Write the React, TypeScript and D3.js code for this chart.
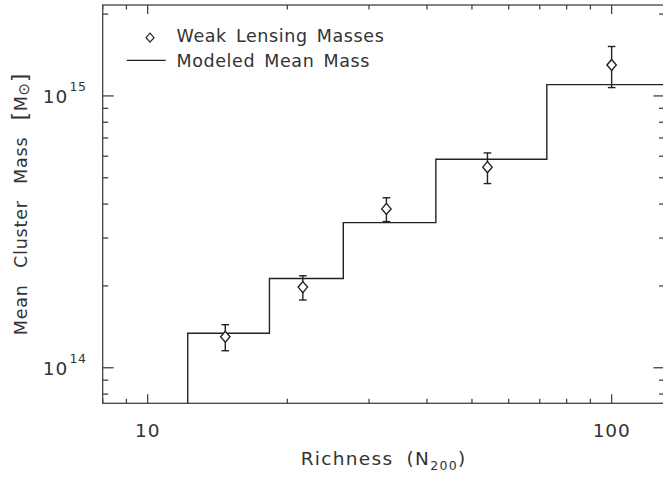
import React from "react";
import * as d3 from "d3";

const richness = [14.7, 21.6, 32.7, 54.0, 100];
const lensingMass = [1.3e14, 1.98e14, 3.84e14, 5.47e14, 1.3e15];
const errLow = [1.155e14, 1.775e14, 3.45e14, 4.76e14, 1.073e15];
const errHigh = [1.44e14, 2.18e14, 4.22e14, 6.17e14, 1.52e15];
const binEdges = [12.2, 18.3, 26.4, 41.8, 72.5, 130];
const modelMass = [1.34e14, 2.13e14, 3.42e14, 5.85e14, 1.1e15];
const xMajor = [10, 100];
const xMinor = [8, 9, 20, 30, 40, 50, 60, 70, 80, 90];
const yMajor = [1e14, 1e15];
const yMinor = [8e13, 9e13, 2e14, 3e14, 4e14, 5e14, 6e14, 7e14, 8e14, 9e14, 2e15];
const legendLabels = ["Weak Lensing Masses", "Modeled Mean Mass"];

const W = 663, H = 478;
const L = 102.7, R = 664.5, T = 5, B = 403.3;
const FONT = "'DejaVu Sans', sans-serif";
const TXT = "#333";

export default function App() {
  const x = d3.scaleLog().domain([8, 130]).range([L, R]);
  const y = d3.scaleLog().domain([7.4e13, 2.16e15]).range([B, T]);

  const stepPts: [number, number][] = [[binEdges[0], 7.4e13]];
  modelMass.forEach((m, i) => stepPts.push([binEdges[i], m]));
  stepPts.push([binEdges[binEdges.length - 1], modelMass[modelMass.length - 1]]);
  const stepLine = d3
    .line<[number, number]>()
    .x((d) => x(d[0]))
    .y((d) => y(d[1]))
    .curve(d3.curveStepAfter);

  const diamond = (cx: number, cy: number, hw: number, hh: number) =>
    `M${cx},${cy - hh}L${cx + hw},${cy}L${cx},${cy + hh}L${cx - hw},${cy}Z`;

  const axisColor = "#444";
  const sw = 1.3;

  return (
    <svg
      width={W}
      height={H}
      style={{ position: "absolute", left: 0, top: 0, background: "#fff" }}
      fontFamily={FONT}
    >
      <rect x={0} y={0} width={W} height={H} fill="#fff" />
      <defs>
        <clipPath id="plot">
          <rect x={L} y={T} width={R - L} height={B - T} />
        </clipPath>
      </defs>

      {/* frame */}
      <rect x={L} y={T} width={R - L} height={B - T} fill="none" stroke={axisColor} strokeWidth={sw} />

      {/* x ticks */}
      {xMajor.map((v) => (
        <g key={"xM" + v}>
          <line x1={x(v)} x2={x(v)} y1={B} y2={B - 9} stroke={axisColor} strokeWidth={sw} />
          <line x1={x(v)} x2={x(v)} y1={T} y2={T + 9} stroke={axisColor} strokeWidth={sw} />
          <text x={x(v)} y={437} textAnchor="middle" fontSize={18.5} fill={TXT} letterSpacing={0.8}>
            {String(v)}
          </text>
        </g>
      ))}
      {xMinor.map((v) => (
        <g key={"xm" + v}>
          <line x1={x(v)} x2={x(v)} y1={B} y2={B - 4.5} stroke={axisColor} strokeWidth={sw} />
          <line x1={x(v)} x2={x(v)} y1={T} y2={T + 4.5} stroke={axisColor} strokeWidth={sw} />
        </g>
      ))}

      {/* y ticks */}
      {yMajor.map((v) => (
        <g key={"yM" + v}>
          <line x1={L} x2={L + 11} y1={y(v)} y2={y(v)} stroke={axisColor} strokeWidth={sw} />
          <line x1={R} x2={R - 11} y1={y(v)} y2={y(v)} stroke={axisColor} strokeWidth={sw} />
          <text x={68} y={y(v) + 7} textAnchor="end" fontSize={18.5} fill={TXT} letterSpacing={0.8}>
            10
          </text>
          <text x={69.5} y={y(v) - 5} textAnchor="start" fontSize={12.5} fill={TXT} letterSpacing={0.5}>
            {String(Math.round(Math.log10(v)))}
          </text>
        </g>
      ))}
      {yMinor.map((v) => (
        <g key={"ym" + v}>
          <line x1={L} x2={L + 5.5} y1={y(v)} y2={y(v)} stroke={axisColor} strokeWidth={sw} />
          <line x1={R} x2={R - 5.5} y1={y(v)} y2={y(v)} stroke={axisColor} strokeWidth={sw} />
        </g>
      ))}

      {/* model step line */}
      <g clipPath="url(#plot)">
        <path d={stepLine(stepPts) || ""} fill="none" stroke="#222" strokeWidth={1.4} />
      </g>

      {/* data with error bars */}
      {richness.map((r, i) => {
        const cx = x(r);
        const cy = y(lensingMass[i]);
        const y1 = y(errHigh[i]);
        const y2 = y(errLow[i]);
        return (
          <g key={"p" + i} stroke="#222" strokeWidth={1.4}>
            <line x1={cx} x2={cx} y1={y1} y2={y2} />
            <line x1={cx - 3.8} x2={cx + 3.8} y1={y1} y2={y1} />
            <line x1={cx - 3.8} x2={cx + 3.8} y1={y2} y2={y2} />
            <path d={diamond(cx, cy, 4.7, 5.5)} fill="#fff" />
          </g>
        );
      })}

      {/* legend */}
      <path d={diamond(150, 37.7, 4, 4.5)} fill="#fff" stroke="#222" strokeWidth={1.2} />
      <text x={176.5} y={42.3} fontSize={17.5} fill={TXT} letterSpacing={0.6} wordSpacing={3}>
        {legendLabels[0]}
      </text>
      <line x1={126.7} x2={165.7} y1={60.3} y2={60.3} stroke="#222" strokeWidth={1.3} />
      <text x={176.5} y={66.7} fontSize={17.5} fill={TXT} letterSpacing={0.6} wordSpacing={3}>
        {legendLabels[1]}
      </text>

      {/* axis titles */}
      <text
        x={(L + R) / 2}
        y={465}
        textAnchor="middle"
        fontSize={18.5}
        fill={TXT}
        letterSpacing={1.3}
        wordSpacing={6}
      >
        Richness (N<tspan fontSize={12.5} dy={5}>200</tspan>
        <tspan dy={-5}>)</tspan>
      </text>
      <text
        transform={`translate(27,${(T + B) / 2}) rotate(-90)`}
        textAnchor="middle"
        fontSize={17.5}
        fill={TXT}
        letterSpacing={0.8}
        wordSpacing={10}
      >
        Mean Cluster Mass <tspan fontSize={21}>[</tspan>M
        <tspan fontSize={15} dy={2}>⊙</tspan>
        <tspan fontSize={21} dy={-2}>]</tspan>
      </text>
    </svg>
  );
}
